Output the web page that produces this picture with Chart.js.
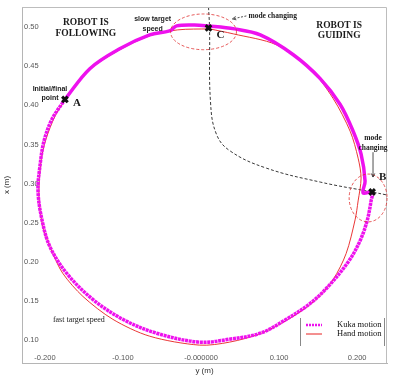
<!DOCTYPE html>
<html>
<head>
<meta charset="utf-8">
<script src="https://cdn.jsdelivr.net/npm/chart.js@4"></script>
<style>
html, body { margin: 0; padding: 0; background: #fff; }
</style>
</head>
<body>
<canvas id="myChart" width="394" height="376"></canvas>
<script>
// note: the horizontal axis is "y (m)" and the vertical axis is "x (m)"
var kukaY = [-0.1744, -0.1425, -0.1042, -0.0658, -0.0403, -0.0313, -0.0083, 0.0083, 0.0428, 0.0760, 0.1182, 0.1527, 0.1783, 0.1949, 0.2051, 0.2102, 0.2077, 0.2192, 0.2179, 0.2128, 0.2038, 0.1898, 0.1642, 0.1399, 0.1093, 0.0760, 0.0364, -0.0019, -0.0569, -0.1003, -0.1387, -0.1719, -0.1936, -0.2038, -0.2089, -0.2064, -0.2013, -0.1911, -0.1744];
var kukaX = [0.4074, 0.4467, 0.4721, 0.4898, 0.4949, 0.5013, 0.5025, 0.5013, 0.4975, 0.4898, 0.4645, 0.4340, 0.4010, 0.3668, 0.3376, 0.3033, 0.2881, 0.2893, 0.2779, 0.2525, 0.2272, 0.2018, 0.1701, 0.1472, 0.1269, 0.1091, 0.1015, 0.0977, 0.1091, 0.1269, 0.1523, 0.1853, 0.2195, 0.2538, 0.2906, 0.3223, 0.3541, 0.3820, 0.4074];

var handY = [0.0109, 0.0415, 0.0965, 0.1399, 0.1693, 0.1911, 0.2013, 0.2051, 0.2013, 0.1974, 0.1859, 0.1693, 0.1476, 0.1182, 0.0773, 0.0364, -0.0019, -0.0658, -0.1131, -0.1514, -0.1770, -0.1898, -0.2026, -0.2077, -0.2051, -0.1987, -0.1872, -0.1744, -0.1425, -0.1042, -0.0658, -0.0300, 0.0109];
var handX = [0.4975, 0.4911, 0.4772, 0.4467, 0.4086, 0.3668, 0.3325, 0.3071, 0.2779, 0.2538, 0.2107, 0.1777, 0.1523, 0.1307, 0.1091, 0.0977, 0.0939, 0.1053, 0.1269, 0.1561, 0.1853, 0.2107, 0.2449, 0.2843, 0.3287, 0.3566, 0.3858, 0.4061, 0.4454, 0.4708, 0.4886, 0.4962, 0.4975];

// black dashed guide from C to B
var guideY = [0.0096, 0.0109, 0.0121, 0.0198, 0.0377, 0.0837, 0.1527, 0.2192, 0.2383];
var guideX = [0.5254, 0.4987, 0.4048, 0.3629, 0.3414, 0.3198, 0.3020, 0.2893, 0.2855];

var pointNames = ['A', 'B', 'C'];
var pointY = [-0.1744, 0.2192, 0.0096];
var pointX = [0.4074, 0.2893, 0.4987];

var yTicks = [-0.2, -0.1, 0, 0.1, 0.2];
var yTickLabels = ['-0.200', '-0.100', '-0.000000', '0.100', '0.200'];
var xTicks = [0.10, 0.15, 0.20, 0.25, 0.30, 0.35, 0.40, 0.45, 0.50];

function toXY(h, v) {
    return h.map(function (val, i) { return { x: val, y: v[i] }; });
}

// dashed red ellipses round the mode changes: centre and radii in axis units
var ringY = [0.0032, 0.2141];
var ringX = [0.4937, 0.2817];
var ringRy = [0.0422, 0.0243];
var ringRx = [0.0228, 0.0305];

// text notes, anchored in axis units
var notes = [
    { t: ['ROBOT IS', 'FOLLOWING'], h: -0.1476, v: 0.5051, font: 'bold 9.5px "Liberation Serif"', lh: 11, align: 'center' },
    { t: ['ROBOT IS', 'GUIDING'], h: 0.1770, v: 0.5013, font: 'bold 9.5px "Liberation Serif"', lh: 10, align: 'center' },
    { t: ['slow target', 'speed'], h: -0.0620, v: 0.5102, font: 'bold 7px "Liberation Sans"', lh: 10, align: 'center' },
    { t: ['mode changing'], h: 0.0607, v: 0.5140, font: 'bold 7.5px "Liberation Serif"', lh: 10, align: 'left' },
    { t: ['mode', 'changing'], h: 0.2204, v: 0.3579, font: 'bold 7.5px "Liberation Serif"', lh: 10, align: 'center' },
    { t: ['Initial/final', 'point'], h: -0.1936, v: 0.4213, font: 'bold 7px "Liberation Sans"', lh: 9, align: 'center' },
    { t: ['fast target speed'], h: -0.1898, v: 0.1256, font: '8px "Liberation Serif"', lh: 10, align: 'left' },
    { t: ['A'], h: -0.1642, v: 0.4023, font: 'bold 11px "Liberation Serif"', lh: 10, align: 'left' },
    { t: ['B'], h: 0.2281, v: 0.3084, font: 'bold 11px "Liberation Serif"', lh: 10, align: 'left' },
    { t: ['C'], h: 0.0198, v: 0.4898, font: 'bold 11px "Liberation Serif"', lh: 10, align: 'left' }
];
var arrows = [
    { h0: 0.0581, v0: 0.5140, h1: 0.0403, v1: 0.5102, dash: [2, 1.5] },
    { h0: 0.2204, v0: 0.3401, h1: 0.2204, v1: 0.3084, dash: [] }
];

var notesPlugin = {
    id: 'notes',
    afterDatasetsDraw: function (chart) {
        var c = chart.ctx, sx = chart.scales.x, sy = chart.scales.y, a = chart.chartArea;
        c.save();
        // frame top and right
        c.strokeStyle = '#bdbdbd';
        c.lineWidth = 1;
        c.beginPath();
        c.moveTo(a.left, a.top + 0.5);
        c.lineTo(a.right - 0.5, a.top + 0.5);
        c.lineTo(a.right - 0.5, a.bottom);
        c.stroke();

        c.strokeStyle = '#e03030';
        c.lineWidth = 0.8;
        c.setLineDash([3, 2]);
        for (var i = 0; i < ringY.length; i++) {
            var cx = sx.getPixelForValue(ringY[i]), cy = sy.getPixelForValue(ringX[i]);
            var rx = Math.abs(sx.getPixelForValue(ringY[i] + ringRy[i]) - cx);
            var ry = Math.abs(sy.getPixelForValue(ringX[i] + ringRx[i]) - cy);
            c.beginPath();
            c.ellipse(cx, cy, rx, ry, 0, 0, Math.PI * 2);
            c.stroke();
        }

        c.strokeStyle = '#222';
        c.fillStyle = '#222';
        arrows.forEach(function (ar) {
            var x0 = sx.getPixelForValue(ar.h0), y0 = sy.getPixelForValue(ar.v0);
            var x1 = sx.getPixelForValue(ar.h1), y1 = sy.getPixelForValue(ar.v1);
            c.setLineDash(ar.dash);
            c.lineWidth = 0.8;
            c.beginPath();
            c.moveTo(x0, y0);
            c.lineTo(x1, y1);
            c.stroke();
            c.setLineDash([]);
            var ang = Math.atan2(y1 - y0, x1 - x0);
            c.beginPath();
            c.moveTo(x1 - 4 * Math.cos(ang - 0.45), y1 - 4 * Math.sin(ang - 0.45));
            c.lineTo(x1, y1);
            c.lineTo(x1 - 4 * Math.cos(ang + 0.45), y1 - 4 * Math.sin(ang + 0.45));
            c.stroke();
        });

        c.textBaseline = 'middle';
        notes.forEach(function (n) {
            var x = sx.getPixelForValue(n.h), y = sy.getPixelForValue(n.v);
            c.font = n.font;
            c.textAlign = n.align;
            c.fillStyle = '#1a1a1a';
            n.t.forEach(function (line, k) { c.fillText(line, x, y + k * n.lh); });
        });

        // legend box at lower right
        var ds = chart.data.datasets;
        var lx = a.right - 87, ly = a.bottom - 45;
        c.strokeStyle = '#888';
        c.lineWidth = 1;
        c.beginPath();
        c.moveTo(lx + 0.5, ly); c.lineTo(lx + 0.5, ly + 28);
        c.moveTo(a.right - 2.5, ly); c.lineTo(a.right - 2.5, ly + 28);
        c.stroke();
        c.strokeStyle = ds[1].borderColor;
        c.lineWidth = 2.5;
        c.setLineDash([2, 1]);
        c.beginPath(); c.moveTo(lx + 6, ly + 7); c.lineTo(lx + 22, ly + 7); c.stroke();
        c.setLineDash([]);
        c.strokeStyle = ds[2].borderColor;
        c.lineWidth = 1;
        c.beginPath(); c.moveTo(lx + 6, ly + 16); c.lineTo(lx + 22, ly + 16); c.stroke();
        c.fillStyle = '#111';
        c.font = '8.5px "Liberation Serif"';
        c.textAlign = 'left';
        c.fillText(ds[1].label, lx + 37, ly + 7);
        c.fillText(ds[2].label, lx + 37, ly + 16);
        c.restore();
    }
};

var ctx = document.getElementById('myChart').getContext('2d');
var chart = new Chart(ctx, {
    type: 'scatter',
    data: {
        datasets: [{
            label: 'points',
            data: toXY(pointY, pointX),
            pointStyle: 'crossRot',
            pointRadius: 4,
            borderColor: '#111',
            borderWidth: 3,
            showLine: false
        }, {
            label: 'Kuka motion',
            data: toXY(kukaY, kukaX),
            showLine: true,
            borderColor: '#ee11ee',
            borderWidth: 3.5,
            pointRadius: 0,
            tension: 0.35,
            // after B the record is sparser and reads as dots
            segment: {
                borderDash: function (s) { return s.p0DataIndex >= 17 ? [3, 0.7] : undefined; }
            }
        }, {
            label: 'Hand motion',
            data: toXY(handY, handX),
            showLine: true,
            borderColor: '#e82020',
            borderWidth: 0.9,
            pointRadius: 0,
            tension: 0.3
        }, {
            label: 'guide',
            data: toXY(guideY, guideX),
            showLine: true,
            borderColor: '#222',
            borderWidth: 0.9,
            borderDash: [3, 2],
            pointRadius: 0,
            tension: 0.4
        }]
    },
    options: {
        responsive: false,
        devicePixelRatio: 1,
        animation: false,
        layout: { padding: { top: 5, right: 6, left: 0, bottom: 0 } },
        plugins: { legend: { display: false }, tooltip: { enabled: false } },
        scales: {
            x: {
                type: 'linear',
                min: -0.2294,
                max: 0.2383,
                afterBuildTicks: function (s) { s.ticks = yTicks.map(function (v) { return { value: v }; }); },
                afterFit: function (s) { s.height = 13; },
                grid: { display: false, drawTicks: false },
                border: { color: '#b5b5b5' },
                ticks: {
                    mirror: true,
                    padding: 1,
                    autoSkip: false,
                    maxRotation: 0,
                    color: '#555',
                    font: { family: 'Liberation Sans', size: 7.5 },
                    callback: function (v, i) { return yTickLabels[i]; }
                },
                title: { display: true, text: 'y (m)', color: '#333', padding: 0, font: { family: 'Liberation Sans', size: 8 } }
            },
            y: {
                type: 'linear',
                min: 0.0711,
                max: 0.5254,
                afterBuildTicks: function (s) { s.ticks = xTicks.map(function (v) { return { value: v }; }); },
                afterFit: function (s) { s.width = 22; },
                grid: { display: false, drawTicks: false },
                border: { color: '#b5b5b5' },
                ticks: {
                    mirror: true,
                    padding: 2,
                    autoSkip: false,
                    color: '#555',
                    font: { family: 'Liberation Sans', size: 7.5 },
                    callback: function (v) { return v.toFixed(2); }
                },
                title: { display: true, text: 'x (m)', color: '#333', padding: { top: 2, bottom: 0 }, font: { family: 'Liberation Sans', size: 8 } }
            }
        }
    },
    plugins: [notesPlugin]
});
</script>
</body>
</html>
